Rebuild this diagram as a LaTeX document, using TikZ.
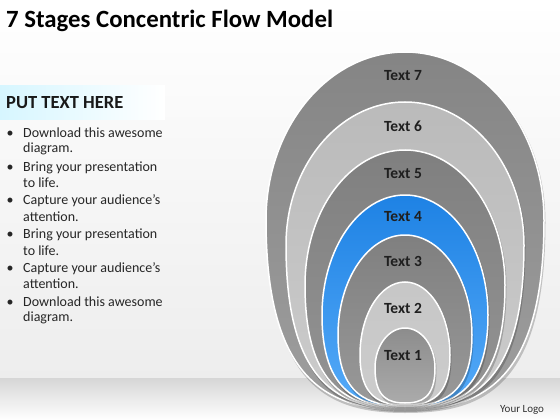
\documentclass[tikz,border=0pt]{standalone}
\usepackage{fontspec}
\setmainfont{Carlito}
\newcommand\eggshape[5]{% cx, T, M, B, R
  ({#1},{#2}) .. controls ({#1+0.552*#5},{#2}) and ({#1+#5},{#3-0.552*(#3-#2)}) .. ({#1+#5},{#3})
  .. controls ({#1+#5},{#3+0.85*(#4-#3)}) and ({#1+0.55*#5},{#4}) .. ({#1},{#4})
  .. controls ({#1-0.55*#5},{#4}) and ({#1-#5},{#3+0.85*(#4-#3)}) .. ({#1-#5},{#3})
  .. controls ({#1-#5},{#3-0.552*(#3-#2)}) and ({#1-0.552*#5},{#2}) .. ({#1},{#2}) -- cycle}
\begin{document}
\begin{tikzpicture}[x=1pt,y=-1pt,
  ring/.style={draw=white,line width=1.5pt},
  shadowring/.style={fill=black,opacity=0.2},
  ringlabel/.style={font=\fontsize{15.5}{18}\selectfont\bfseries,text=black!88,inner sep=0pt},
  bullettext/.style={font=\fontsize{14}{16}\selectfont,text=black!85,anchor=base west,inner sep=0pt},
  bulletdot/.style={font=\fontsize{14}{16}\selectfont,text=black!85,anchor=base,inner sep=0pt}]
\useasboundingbox (0,0) rectangle (560,420);
% background
\shade[top color=white,bottom color=black!7] (0,0) rectangle (560,378);
\shade[top color=black!16,bottom color=white] (0,378) rectangle (560,420);
% title
\node[anchor=base west,inner sep=0pt,font=\fontsize{24.8}{28}\selectfont\bfseries] (title) at (6,28) {7 Stages Concentric Flow Model};
% header band
\shade[left color=blue!22!cyan!16!white,right color=white] (0,86) rectangle (165,119);
\node[anchor=base west,inner sep=0pt,font=\fontsize{18.5}{20}\selectfont\bfseries,text=black!90] (head) at (6,109) {PUT TEXT HERE};
% bullets
\foreach \y/\t [count=\i] in {137/Download this awesome,171/Bring your presentation,204/Capture your audience’s,238/Bring your presentation,272/Capture your audience’s,306/Download this awesome}{
  \node[bulletdot] (dot\i) at (10,\y) {•};
  \node[bullettext] (b\i) at (23,\y) {\t};
}
\foreach \y/\t [count=\i] in {152/diagram.,187/to life.,221/attention.,255/to life.,288/attention.,321/diagram.}{
  \node[bullettext] (c\i) at (23,\y) {\t};
}
% rings
\foreach \T/\M/\B/\R/\ctop/\cbot in {
  52/220/410/139/black!48/black!38,
  102/245/409/119/black!27/black!20,
  150/285/408/100/black!50/black!42,
  195/315/407/83/{rgb,255:red,30;green,130;blue,228}/{rgb,255:red,85;green,170;blue,248},
  235/335/406/67/black!50/black!40,
  282/355/405/45/black!22/black!20,
  328/368/403/30/black!45/black!33}{
  \fill[shadowring] \eggshape{405}{\T+1.5}{\M+2}{\B+3}{\R+1.5};
  \shade[ring,top color=\ctop,bottom color=\cbot] \eggshape{405}{\T}{\M}{\B}{\R};
}
% labels
\foreach \y/\t in {76/7,126/6,174/5,217/4,261/3,308/2,356/1}{
  \node[ringlabel] (t\t) at (403,\y) {Text \t};
}
\node[anchor=base west,inner sep=0pt,font=\fontsize{11}{13}\selectfont,text=black!80] (logo) at (500,412) {Your Logo};
\end{tikzpicture}
\end{document}
